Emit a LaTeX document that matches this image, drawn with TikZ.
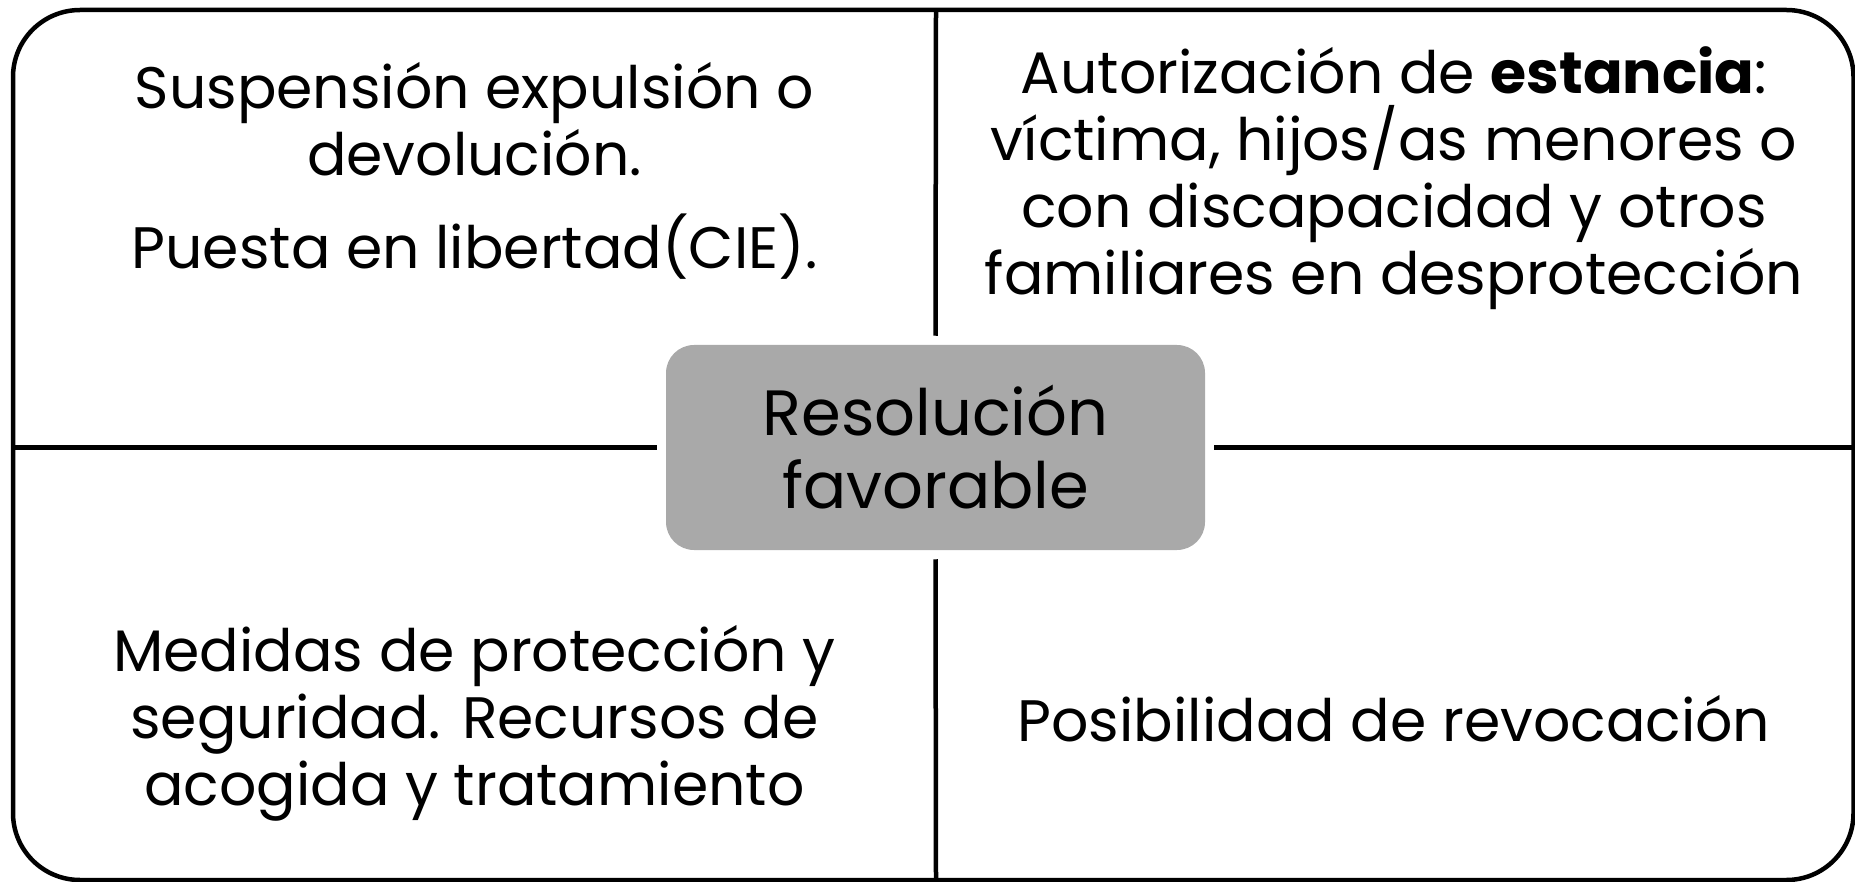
\documentclass[tikz,border=0pt]{standalone}
\usepackage{fontspec}
\setmainfont{Poppins}
\definecolor{gris}{RGB}{169,169,169}
\begin{document}
\begin{tikzpicture}[x=1pt,y=-1pt,line width=4.5pt,
    texto/.style={align=center,inner sep=0pt,font=\fontsize{58.5}{67}\selectfont},
    centro/.style={fill=gris,rounded corners=28pt,minimum width=539pt,minimum height=205pt,
        align=center,inner sep=0pt,font=\fontsize{64}{73}\selectfont}]
    \useasboundingbox (0,0) rectangle (1855,882);
    \draw[rounded corners=67pt] (13,10) rectangle (1853.5,880);%marco
    \node[centro] (res) at (935.5,447.5) {Resolución\\favorable};
    \coordinate (arr) at (936,10);
    \coordinate (aba) at (936,880);
    \coordinate (izq) at (13,447.5);
    \coordinate (der) at (1853.5,447.5);
    \foreach \a/\b in {arr/north,aba/south,izq/west,der/east}
        \draw[shorten >=7pt] (\a)--(res.\b);
    \path
    (474.5,171) node[texto] (q1) {Suspensión expulsión o\\devolución.\\[26pt]Puesta en libertad(CIE).}
    (1394,178) node[texto] (q2) {Autorización de \textbf{estancia}:\\víctima, hijos/as menores o\\con discapacidad y otros\\familiares en desprotección}
    (474.5,723) node[texto] (q3) {Medidas de protección y\\seguridad. Recursos de\\acogida y tratamiento}
    (1394,719) node[texto] (q4) {Posibilidad de revocación}
    ;
\end{tikzpicture}
\end{document}
